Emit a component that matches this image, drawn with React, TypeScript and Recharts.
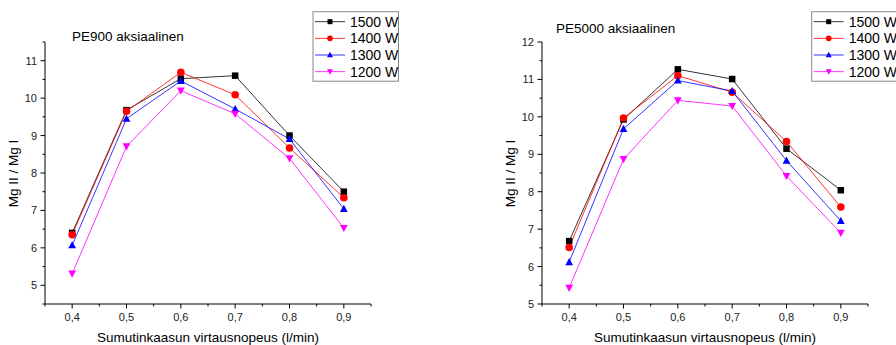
import React from 'react';
import { LineChart, Line, XAxis, YAxis } from 'recharts';

const FONT = '"Liberation Sans", Arial, sans-serif';

const FLOWS = [0.4, 0.5, 0.6, 0.7, 0.8, 0.9];
const X_TICKS = [0.35, 0.4, 0.45, 0.5, 0.55, 0.6, 0.65, 0.7, 0.75, 0.8, 0.85, 0.9, 0.95];
const SERIES_NAMES = ['1500 W', '1400 W', '1300 W', '1200 W'];
const SERIES_COLORS = ['#000000', '#ff0000', '#0000ff', '#ff00ff'];
const SERIES_SHAPES = ['square', 'circle', 'up', 'down'];

const PE900_1500 = [6.4, 9.68, 10.52, 10.6, 9.0, 7.5];
const PE900_1400 = [6.35, 9.65, 10.69, 10.09, 8.67, 7.34];
const PE900_1300 = [6.07, 9.45, 10.46, 9.71, 8.91, 7.04];
const PE900_1200 = [5.31, 8.71, 10.2, 9.58, 8.39, 6.53];

const PE5000_1500 = [6.68, 9.93, 11.27, 11.01, 9.15, 8.04];
const PE5000_1400 = [6.51, 9.97, 11.1, 10.66, 9.34, 7.59];
const PE5000_1300 = [6.12, 9.68, 10.97, 10.69, 8.83, 7.22];
const PE5000_1200 = [5.43, 8.87, 10.44, 10.29, 8.42, 6.9];

const PE900_Y_TICKS = [4.5, 5, 5.5, 6, 6.5, 7, 7.5, 8, 8.5, 9, 9.5, 10, 10.5, 11, 11.5];
const PE5000_Y_TICKS = [5, 5.5, 6, 6.5, 7, 7.5, 8, 8.5, 9, 9.5, 10, 10.5, 11, 11.5, 12];

const PE900_TITLE = 'PE900 aksiaalinen';
const PE5000_TITLE = 'PE5000 aksiaalinen';
const X_LABEL = 'Sumutinkaasun virtausnopeus (l/min)';
const Y_LABEL = 'Mg II / Mg I';

function buildRows(series: number[][]) {
  return FLOWS.map((x, i) => {
    const row: any = { x };
    series.forEach((s, k) => {
      row['s' + k] = s[i];
    });
    return row;
  });
}

const PE900_ROWS = buildRows([PE900_1500, PE900_1400, PE900_1300, PE900_1200]);
const PE5000_ROWS = buildRows([PE5000_1500, PE5000_1400, PE5000_1300, PE5000_1200]);

function Marker({ shape, cx, cy, color, size }: any) {
  if (shape === 'square') {
    return <rect x={cx - size / 2} y={cy - size / 2} width={size} height={size} fill={color} />;
  }
  if (shape === 'circle') {
    return <circle cx={cx} cy={cy} r={size * 0.58} fill={color} />;
  }
  const h = size * 1.05;
  const w = size * 1.2;
  if (shape === 'up') {
    return (
      <polygon
        points={`${cx},${cy - h * 0.6} ${cx - w / 2},${cy + h * 0.45} ${cx + w / 2},${cy + h * 0.45}`}
        fill={color}
      />
    );
  }
  return (
    <polygon
      points={`${cx},${cy + h * 0.6} ${cx - w / 2},${cy - h * 0.45} ${cx + w / 2},${cy - h * 0.45}`}
      fill={color}
    />
  );
}

function makeDot(shape: string, color: string) {
  return (p: any) => {
    const { cx, cy, index } = p;
    if (cx == null || cy == null) return <g key={'d' + index} />;
    return (
      <g key={'d' + index}>
        <Marker shape={shape} cx={cx} cy={cy} color={color} size={6.5} />
      </g>
    );
  };
}

function isMajor(v: number, step: number) {
  const r = v / step;
  return Math.abs(r - Math.round(r)) < 1e-6;
}

const YTick = (p: any) => {
  const { x, y, payload } = p;
  const v = payload.value;
  const major = isMajor(v, 1);
  return (
    <g>
      <line x1={x} x2={x - (major ? 4.5 : 2.5)} y1={y} y2={y} stroke="#000" strokeWidth={1} />
      {major && (
        <text x={x - 8} y={y} dy={4} textAnchor="end" fontSize={11} fontFamily={FONT} fill="#222">
          {String(v)}
        </text>
      )}
    </g>
  );
};

const XTick = (p: any) => {
  const { x, y, payload } = p;
  const v = payload.value;
  const major = isMajor(v, 0.1);
  return (
    <g>
      <line x1={x} x2={x} y1={y} y2={y + (major ? 4.5 : 2.5)} stroke="#000" strokeWidth={1} />
      {major && (
        <text x={x} y={y + 17} textAnchor="middle" fontSize={11} fontFamily={FONT} fill="#222">
          {v.toFixed(1).replace('.', ',')}
        </text>
      )}
    </g>
  );
};

function Panel({ rows, yDomain, yTicks, marginLeft, marginRight }: any) {
  return (
    <LineChart
      width={448}
      height={345}
      data={rows}
      margin={{ top: 42, right: marginRight, bottom: 0, left: marginLeft }}
    >
      <XAxis
        dataKey="x"
        type="number"
        domain={[0.35, 0.95]}
        ticks={X_TICKS}
        interval={0}
        height={41}
        tickSize={0}
        tickMargin={0}
        tickLine={false}
        axisLine={{ stroke: '#000', strokeWidth: 1 }}
        tick={<XTick />}
        allowDataOverflow
      />
      <YAxis
        type="number"
        domain={yDomain}
        ticks={yTicks}
        interval={0}
        width={45}
        tickSize={0}
        tickMargin={0}
        tickLine={false}
        axisLine={{ stroke: '#000', strokeWidth: 1 }}
        tick={<YTick />}
        allowDataOverflow
      />
      {SERIES_NAMES.map((name, k) => (
        <Line
          key={name}
          name={name}
          dataKey={'s' + k}
          type="linear"
          stroke={SERIES_COLORS[k]}
          strokeWidth={0.8}
          dot={makeDot(SERIES_SHAPES[k], SERIES_COLORS[k])}
          activeDot={false}
          isAnimationActive={false}
        />
      ))}
    </LineChart>
  );
}

function LegendBox({ left, top }: any) {
  return (
    <g transform={`translate(${left},${top})`}>
      <rect x={0} y={0} width={85.5} height={69.5} fill="#fff" stroke="#888" strokeWidth={1} />
      {SERIES_NAMES.map((name, k) => {
        const cy = 10 + k * 16.65;
        return (
          <g key={name}>
            <line x1={2} x2={32} y1={cy} y2={cy} stroke={SERIES_COLORS[k]} strokeWidth={0.8} />
            <Marker shape={SERIES_SHAPES[k]} cx={17} cy={cy} color={SERIES_COLORS[k]} size={5} />
            <text x={37} y={cy + 5} fontSize={14} fontFamily={FONT} fill="#000">
              {name}
            </text>
          </g>
        );
      })}
    </g>
  );
}

export default function App() {
  return (
    <div
      style={{
        position: 'absolute',
        left: 0,
        top: 0,
        width: 896,
        height: 345,
        background: '#fff',
        overflow: 'hidden',
        fontFamily: FONT,
      }}
    >
      <div style={{ position: 'absolute', left: 0, top: 0 }}>
        <Panel rows={PE900_ROWS} yDomain={[4.5, 11.5]} yTicks={PE900_Y_TICKS} marginLeft={0} marginRight={77} />
      </div>
      <div style={{ position: 'absolute', left: 448, top: 0 }}>
        <Panel rows={PE5000_ROWS} yDomain={[5, 12]} yTicks={PE5000_Y_TICKS} marginLeft={49} marginRight={28} />
      </div>
      <svg
        width={896}
        height={345}
        style={{ position: 'absolute', left: 0, top: 0, pointerEvents: 'none' }}
      >
        <text x={72} y={41} fontSize={13.5} fontFamily={FONT} fill="#000">
          {PE900_TITLE}
        </text>
        <text x={556} y={33} fontSize={13.5} fontFamily={FONT} fill="#000">
          {PE5000_TITLE}
        </text>
        <text x={208} y={342} textAnchor="middle" fontSize={13.5} fontFamily={FONT} fill="#000">
          {X_LABEL}
        </text>
        <text x={705} y={342} textAnchor="middle" fontSize={13.5} fontFamily={FONT} fill="#000">
          {X_LABEL}
        </text>
        <text
          x={18}
          y={173.5}
          textAnchor="middle"
          fontSize={13.5}
          fontFamily={FONT}
          fill="#000"
          transform="rotate(-90 18 173.5)"
        >
          {Y_LABEL}
        </text>
        <text
          x={515}
          y={173.5}
          textAnchor="middle"
          fontSize={13.5}
          fontFamily={FONT}
          fill="#000"
          transform="rotate(-90 515 173.5)"
        >
          {Y_LABEL}
        </text>
        <LegendBox left={313} top={11.7} />
        <LegendBox left={811.7} top={11.7} />
      </svg>
    </div>
  );
}
